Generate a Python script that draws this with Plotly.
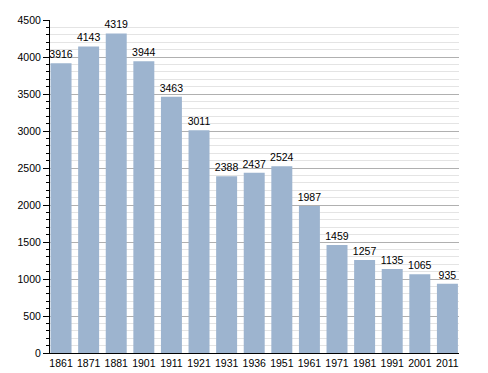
import plotly.graph_objects as go

years = ["1861", "1871", "1881", "1901", "1911", "1921", "1931", "1936",
         "1951", "1961", "1971", "1981", "1991", "2001", "2011"]
population = [3916, 4143, 4319, 3944, 3463, 3011, 2388, 2437,
              2524, 1987, 1459, 1257, 1135, 1065, 935]
y_ticks = [0, 500, 1000, 1500, 2000, 2500, 3000, 3500, 4000, 4500]

fig = go.Figure(go.Bar(
    x=years, y=population,
    marker=dict(color="#9db4cf", line=dict(width=0)),
    width=0.76,
    text=[str(v) for v in population],
    textposition="outside",
    textfont=dict(family="Liberation Sans, Arial, sans-serif", size=10.5, color="#000"),
    cliponaxis=False,
))

# page body has an 8px default margin, so the figure is 8px smaller
fig.update_layout(
    width=480, height=365,
    margin=dict(l=42, r=29, t=12, b=20, autoexpand=False),
    paper_bgcolor="white", plot_bgcolor="white",
    font=dict(family="Liberation Sans, Arial, sans-serif", size=10.5, color="#000"),
    showlegend=False,
    uniformtext=dict(minsize=10.5, mode="show"),
)
fig.update_xaxes(
    type="category", range=[-0.40, 14.42], automargin=False,
    showline=True, linecolor="#000", linewidth=1,
    ticks="", showgrid=False, tickfont=dict(size=10.5),
)
fig.update_yaxes(
    range=[0, 4500], tickvals=y_ticks, automargin=False,
    showline=True, linecolor="#000", linewidth=1,
    ticks="outside", ticklen=6, tickcolor="#000",
    showgrid=True, gridcolor="#b0b0b0", gridwidth=1,
    zeroline=False,
    minor=dict(dtick=100, ticks="outside", ticklen=3, tickcolor="#000",
               showgrid=True, gridcolor="#e4e4e4", gridwidth=1),
    tickfont=dict(size=10.5),
)

fig.write_html("out.html")
